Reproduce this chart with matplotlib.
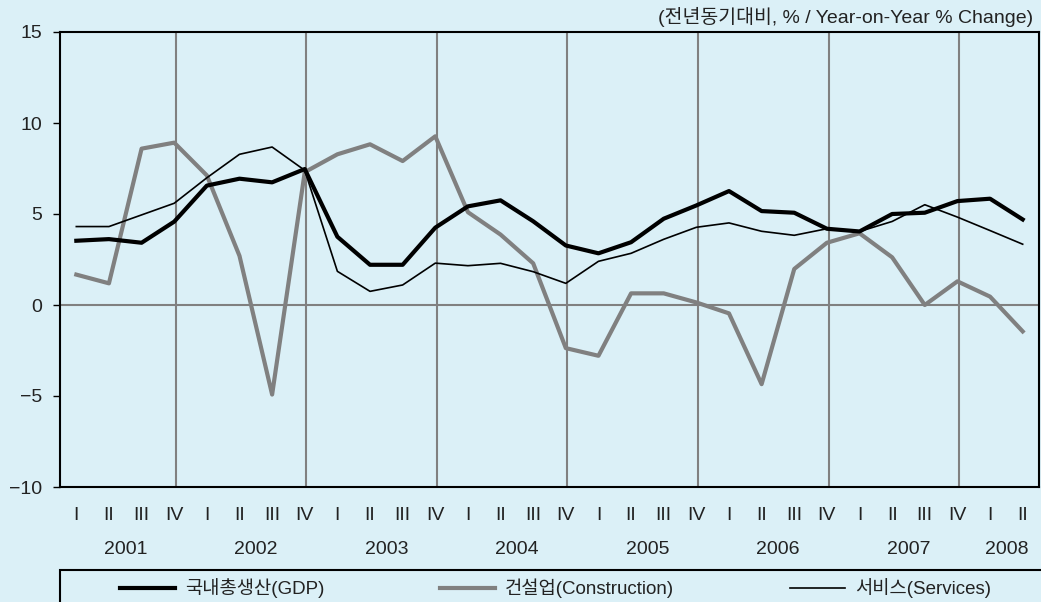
import numpy as np
import matplotlib
matplotlib.use("Agg")
import matplotlib.pyplot as plt
from matplotlib.lines import Line2D
from matplotlib.patches import Rectangle
from matplotlib.transforms import blended_transform_factory

plt.rcParams['font.family'] = ['Liberation Sans', 'Noto Sans CJK KR', 'DejaVu Sans']

# quarterly data, 2001 Q1 .. 2008 Q2
years = ['2001', '2002', '2003', '2004', '2005', '2006', '2007', '2008']
quarters = ['I', 'II', 'III', 'IV']
gdp = [3.53, 3.62, 3.42, 4.58, 6.56, 6.94, 6.74, 7.47,
       3.75, 2.21, 2.21, 4.25, 5.42, 5.75, 4.60, 3.27,
       2.84, 3.45, 4.74, 5.47, 6.26, 5.16, 5.07, 4.19,
       4.04, 5.00, 5.07, 5.71, 5.84, 4.70]
construction = [1.67, 1.19, 8.59, 8.92, 7.12, 2.70, -4.92, 7.30,
                8.28, 8.83, 7.91, 9.27, 5.10, 3.87, 2.29, -2.37,
                -2.79, 0.64, 0.64, 0.14, -0.46, -4.35, 1.98, 3.42,
                3.94, 2.62, 0.00, 1.30, 0.46, -1.45]
services = [4.31, 4.31, 4.95, 5.59, 6.99, 8.28, 8.68, 7.40,
            1.85, 0.75, 1.10, 2.30, 2.16, 2.29, 1.83, 1.19,
            2.40, 2.84, 3.61, 4.27, 4.51, 4.05, 3.83, 4.19,
            4.04, 4.59, 5.51, 4.83, 4.09, 3.34]
labels = ['국내총생산(GDP)', '건설업(Construction)', '서비스(Services)']
unit_text = '(전년동기대비, % / Year-on-Year % Change)'

bg = '#dbf0f7'
grey = '#808080'
txt = '#222222'

fig = plt.figure(figsize=(10.41, 6.02), dpi=100, facecolor=bg)
W, H = 1041, 602
ax = fig.add_axes([60 / W, (H - 487) / H, 979 / W, 455 / H])
ax.set_facecolor(bg)

n = len(gdp)
x = np.arange(n)
qlabels = [quarters[i % 4] for i in range(n)]

# year separators at each Q4 and the zero line
for i in range(3, n, 4):
    ax.axvline(i + 0.05, color=grey, lw=1.5, zorder=1)
ax.axhline(0, color=grey, lw=1.5, zorder=1)

ax.plot(x, construction, color=grey, lw=3.0, zorder=2)
ax.plot(x, services, color='black', lw=1.2, zorder=3)
ax.plot(x, gdp, color='black', lw=3.0, zorder=4)

ax.set_xlim(-0.5, n - 0.5)
ax.set_ylim(-10, 15)
ax.set_yticks([-10, -5, 0, 5, 10, 15])
ax.tick_params(axis='y', direction='out', length=5, width=1, pad=8,
               labelsize=14, labelcolor=txt)
ax.set_xticks([])
for s in ax.spines.values():
    s.set_linewidth(1.5)
    s.set_color('black')

tr = blended_transform_factory(ax.transData, ax.transAxes)
for i, q in enumerate(qlabels):
    ax.text(i, -0.062, q, transform=tr, ha='center', va='center', fontsize=14, color=txt)
for k, yr in enumerate(years):
    idx = [i for i in range(n) if i // 4 == k]
    ax.text(np.mean(idx), -0.138, yr, transform=tr, ha='center', va='center',
            fontsize=14, color=txt)

fig.text(1033 / W, 1 - 17 / H, unit_text, ha='right', va='center', fontsize=14, color=txt)

# legend box (runs off the bottom/right edge)
fig.patches.append(Rectangle((60 / W, -0.2), 1.0, 0.2 + (H - 570) / H,
                             transform=fig.transFigure, fill=False,
                             edgecolor='black', lw=1.5))
ly = 1 - 588 / H
styles = [('black', 3.0), (grey, 3.0), ('black', 1.2)]
xs = [120, 440, 790]
for lab, (c, lw), x0 in zip(labels, styles, xs):
    fig.lines.append(Line2D([x0 / W, (x0 + 55) / W], [ly, ly], transform=fig.transFigure,
                            color=c, lw=lw))
    fig.text((x0 + 65) / W, ly, lab, ha='left', va='center', fontsize=13.5, color=txt)

fig.savefig('out.png', dpi=100, facecolor=bg)
